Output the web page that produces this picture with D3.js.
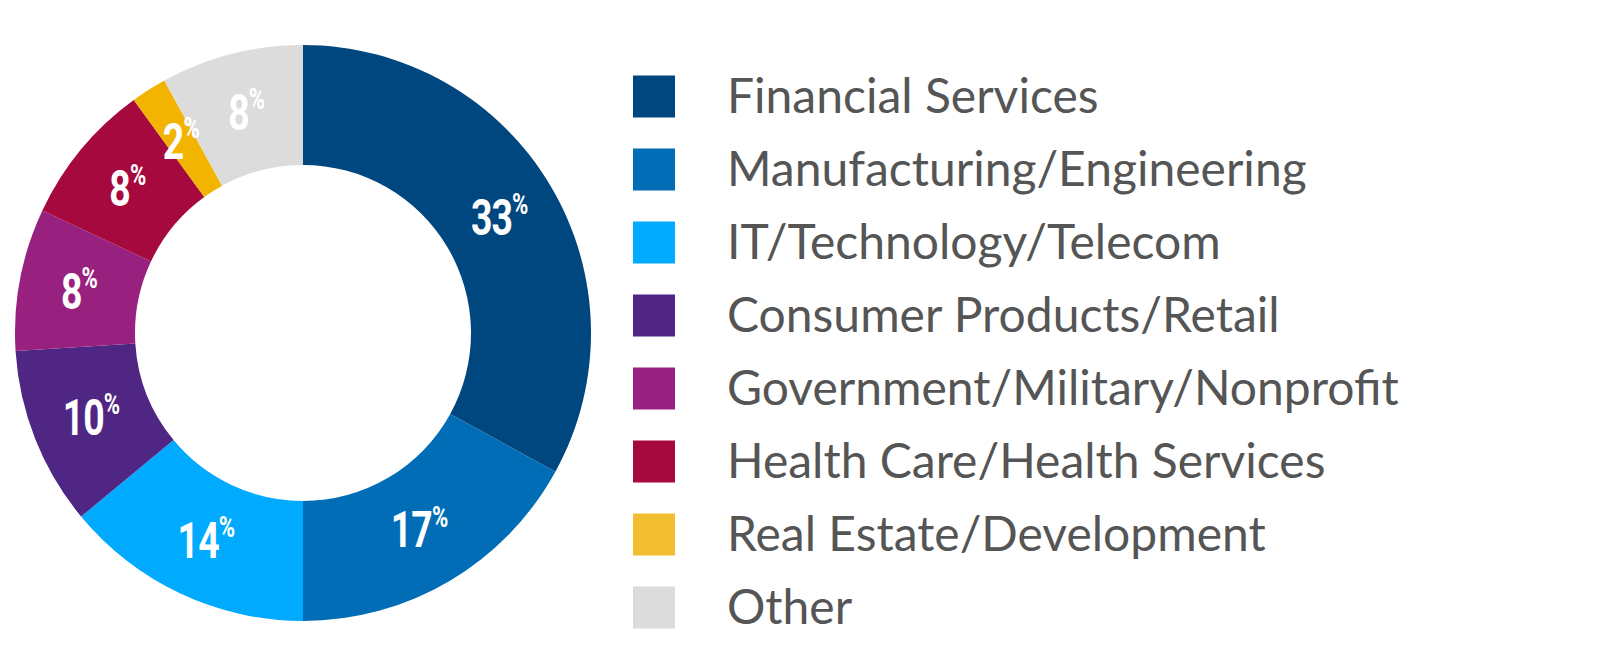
<!DOCTYPE html>
<html><head><meta charset="utf-8">
<script src="https://cdn.jsdelivr.net/npm/d3@7"></script>
<style>body{margin:0;background:#fff}</style>
</head><body>
<svg id="c" width="1600" height="667"></svg>
<script>
const categories = ["Financial Services","Manufacturing/Engineering","IT/Technology/Telecom","Consumer Products/Retail","Government/Military/Nonprofit","Health Care/Health Services","Real Estate/Development","Other"];
const values = [33,17,14,10,8,8,2,8];
const colors = ["#00467f","#006db6","#00aaff","#4f2683","#98217f","#a6093d","#f2b400","#dcdcdd"];
const legendColors = ["#00467f","#006db6","#00aaff","#4f2683","#98217f","#a6093d","#f2be30","#dcdcdd"];

const svg = d3.select("#c");
const g = svg.append("g").attr("transform","translate(303,333)");
const pie = d3.pie().sort(null).value(d=>d)(values);
const arc = d3.arc().innerRadius(168).outerRadius(288);
const labelArc = d3.arc().innerRadius(228).outerRadius(228);
g.selectAll("path").data(pie).join("path").attr("d",arc).attr("fill",(d,i)=>colors[i]);
const t = g.selectAll("text").data(pie).join("text")
  .attr("transform",d=>{const [x,y]=labelArc.centroid(d);return `translate(${x},${y}) scale(0.85,1.15)`;})
  .attr("text-anchor","middle").attr("dy","0.36em")
  .attr("fill","#fff").attr("font-family","Roboto, sans-serif").attr("font-weight","bold")
  .attr("font-size",44).attr("letter-spacing",-1);
t.append("tspan").text(d=>d.data);
t.append("tspan").text("%").attr("font-size",26).attr("dy","-0.7em");

const lg = svg.append("g");
const y = d3.scaleBand().domain(categories).range([60,644]);
categories.forEach((c,i)=>{
  const yc = y(c)+y.bandwidth()/2;
  lg.append("rect").attr("x",633).attr("y",yc-21).attr("width",42).attr("height",42).attr("fill",legendColors[i]);
  lg.append("text").attr("x",727).attr("y",yc).attr("dy","0.35em").attr("fill","#555")
    .attr("font-family","Lato, 'Open Sans', sans-serif").attr("font-size",48).text(c);
});
</script>
</body></html>
